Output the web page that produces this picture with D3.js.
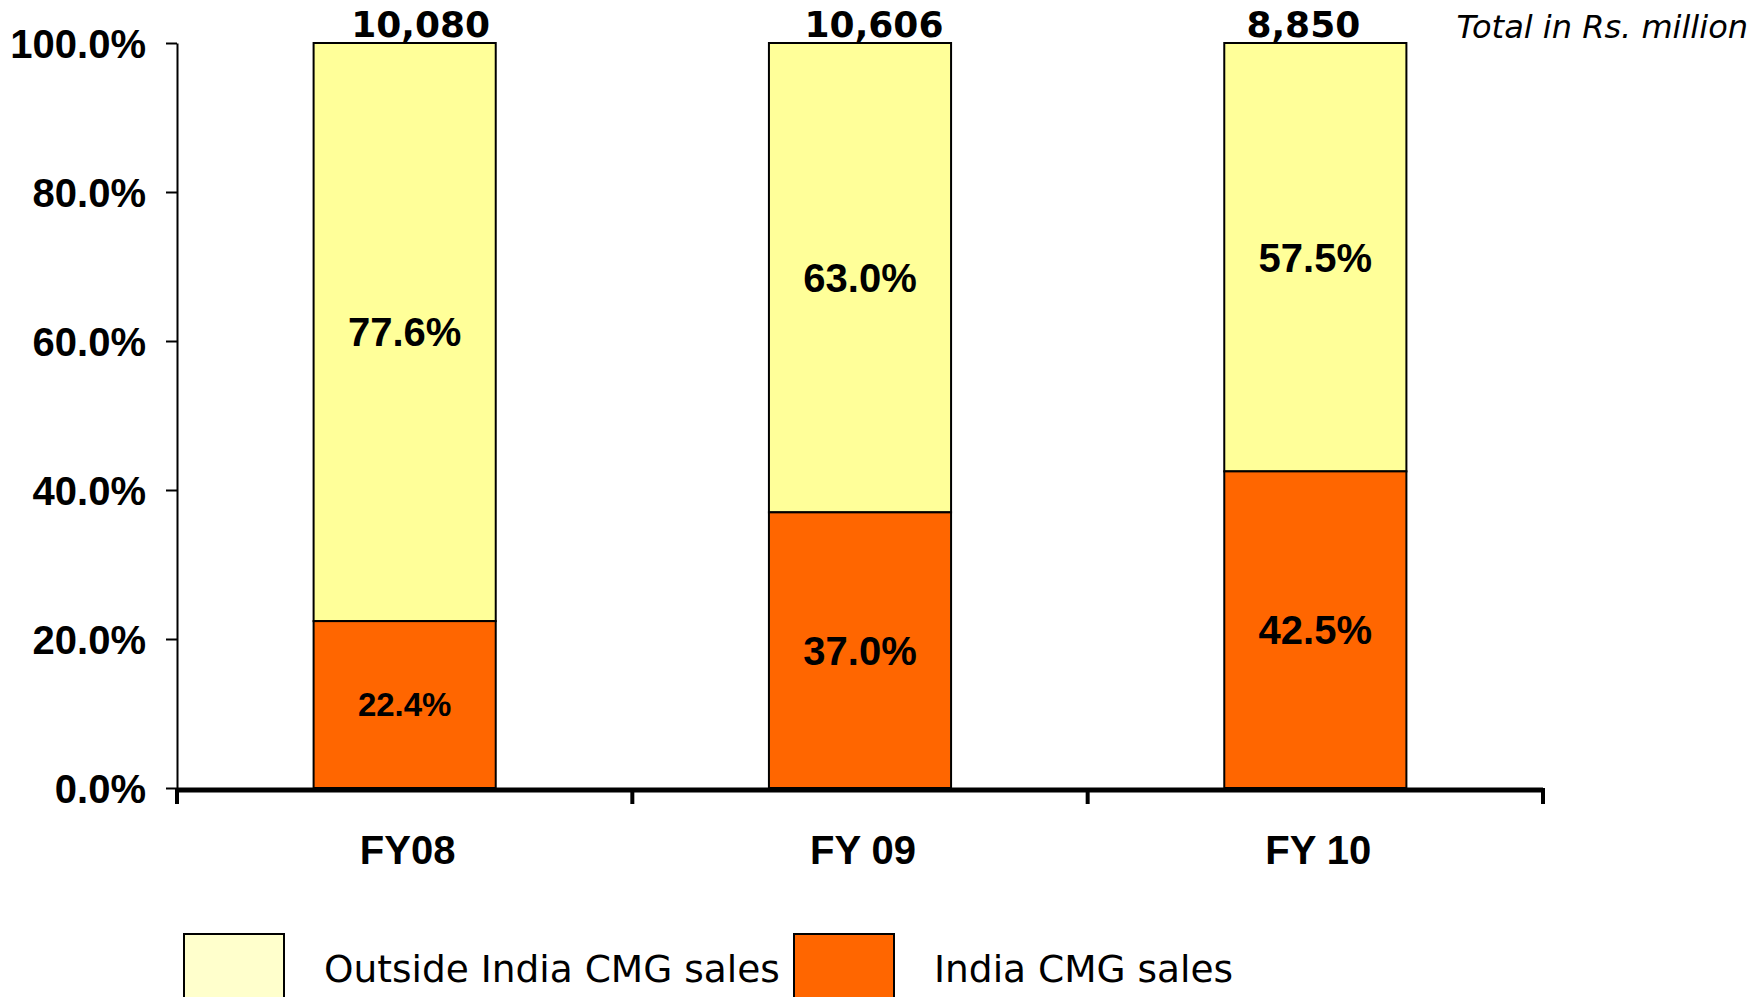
<!DOCTYPE html>
<head>
    <meta charset="utf-8">
    <script src="https://d3js.org/d3.v7.min.js"></script>
    <style>
      body { margin: 0; background: #fff; }
      .tick text, .pct, .cat {
        font-family: "Liberation Sans", Arial, sans-serif;
        font-weight: bold;
        fill: #000;
      }
      .total { font-family: "DejaVu Sans", Verdana, sans-serif; font-weight: bold; font-size: 36px; }
      .unit { font-family: "DejaVu Sans", Verdana, sans-serif; font-style: italic; font-size: 32px; }
      .legend text { font-family: "DejaVu Sans", Verdana, sans-serif; font-size: 37.5px; }
    </style>
<body>
    <script>
        var categories = ["FY08", "FY 09", "FY 10"]
        var india = [0.224, 0.370, 0.425]
        var outside = [0.776, 0.630, 0.575]
        var totals = ["10,080", "10,606", "8,850"]
        var yTicks = [0, 0.2, 0.4, 0.6, 0.8, 1.0]
        var seriesNames = ["Outside India CMG sales", "India CMG sales"]

        var w = 1757, h = 997
        var svg = d3.select("body").append("svg")
          .attr("width", w)
          .attr("height", h)

        var x = d3.scaleBand().domain(categories).range([177, 1543]).padding(0)
        var y = d3.scaleLinear().domain([0, 1]).range([788, 43])
        var barW = x.bandwidth() * 0.4
        var colors = { outside: "#ffff99", india: "#ff6600" }

        // y axis
        var yAxis = svg.append("g")
          .attr("transform", "translate(177,0)")
          .call(d3.axisLeft(y).tickValues(yTicks).tickFormat(d3.format(".1%"))
            .tickSize(11).tickSizeOuter(0).tickPadding(20))
        yAxis.select(".domain").attr("stroke", "#000").attr("stroke-width", 2)
        yAxis.selectAll(".tick line").attr("stroke", "#000").attr("stroke-width", 2)
        yAxis.selectAll(".tick text").style("font-size", "40px").attr("dy", "0.36em")

        // bars
        var bars = svg.append("g")
        categories.forEach(function(c, i) {
          var x0 = x(c) + (x.bandwidth() - barW) / 2
          bars.append("rect")
            .attr("x", x0).attr("width", barW)
            .attr("y", y(1)).attr("height", y(india[i]) - y(1))
            .attr("fill", colors.outside).attr("stroke", "#000").attr("stroke-width", 2)
          bars.append("rect")
            .attr("x", x0).attr("width", barW)
            .attr("y", y(india[i])).attr("height", y(0) - y(india[i]))
            .attr("fill", colors.india).attr("stroke", "#000").attr("stroke-width", 2)

          var cx = x(c) + x.bandwidth() / 2
          bars.append("text").attr("class", "pct")
            .attr("x", cx).attr("y", y(india[i] + outside[i] / 2))
            .attr("dy", "0.36em").attr("text-anchor", "middle")
            .style("font-size", "40px")
            .text(d3.format(".1%")(outside[i]))
          bars.append("text").attr("class", "pct")
            .attr("x", cx).attr("y", y(india[i] / 2))
            .attr("dy", "0.36em").attr("text-anchor", "middle")
            .style("font-size", india[i] < 0.3 ? "33px" : "40px")
            .text(d3.format(".1%")(india[i]))
        })

        // totals on top
        var totalDx = [16, 14, -12]
        svg.selectAll(".total").data(totals).enter().append("text")
          .attr("class", "total")
          .attr("x", function(d, i) { return x(categories[i]) + x.bandwidth() / 2 + totalDx[i] })
          .attr("y", 37)
          .attr("text-anchor", "middle")
          .text(function(d) { return d })
        svg.append("text").attr("class", "unit")
          .attr("x", 1748).attr("y", 38).attr("text-anchor", "end")
          .text("Total in Rs. million")

        // x axis
        var xAxis = svg.append("g")
        xAxis.append("line")
          .attr("x1", 177).attr("x2", 1543).attr("y1", y(0) + 2).attr("y2", y(0) + 2)
          .attr("stroke", "#000").attr("stroke-width", 5)
        var bounds = categories.map(function(c) { return x(c) }).concat([x.range()[1]])
        xAxis.selectAll(".xt").data(bounds).enter().append("line")
          .attr("x1", function(d) { return d }).attr("x2", function(d) { return d })
          .attr("y1", y(0)).attr("y2", y(0) + 16)
          .attr("stroke", "#000").attr("stroke-width", 4)
        xAxis.selectAll(".cat").data(categories).enter().append("text")
          .attr("class", "cat")
          .attr("x", function(d) { return x(d) + x.bandwidth() / 2 + 3 })
          .attr("y", 864)
          .attr("text-anchor", "middle")
          .style("font-size", "40px")
          .text(function(d) { return d })

        // legend
        var legend = svg.append("g").attr("class", "legend")
        var legX = [184, 794], legTextX = [324, 934]
        var legColors = ["#ffffcc", colors.india]
        seriesNames.forEach(function(s, i) {
          legend.append("rect")
            .attr("x", legX[i]).attr("y", 934).attr("width", 100).attr("height", 80)
            .attr("fill", legColors[i]).attr("stroke", "#000").attr("stroke-width", 2)
          legend.append("text")
            .attr("x", legTextX[i]).attr("y", 982)
            .text(s)
        })
    </script>
</body>
